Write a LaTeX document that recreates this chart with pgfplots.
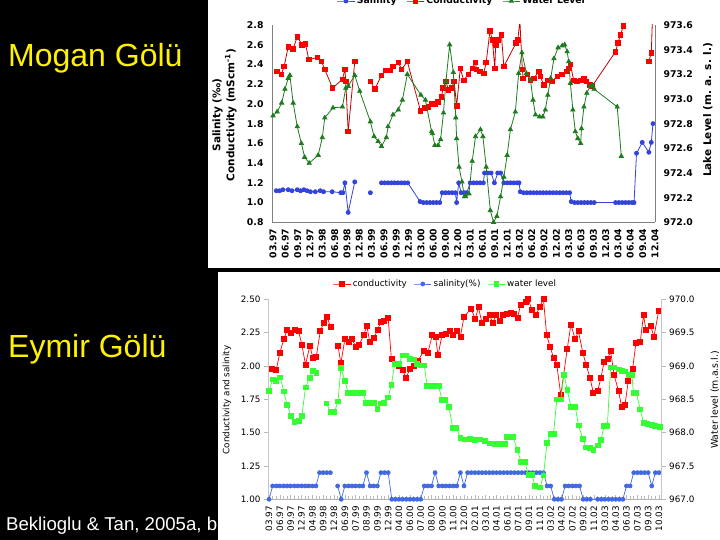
\documentclass[border=0pt]{standalone}
\usepackage{pgfplots}
\pgfplotsset{compat=1.18}
\usepackage{fontspec}
\setmainfont{DejaVu Sans}
\newfontfamily\arialf{Liberation Sans}

\definecolor{tred}{HTML}{FF0000}
\definecolor{tredl}{HTML}{C80000}
\definecolor{tgreen}{HTML}{1E7B1E}
\definecolor{tblue}{HTML}{3344DD}
\definecolor{bred}{HTML}{FF0000}
\definecolor{bgreen}{HTML}{33FF33}
\definecolor{bblue}{HTML}{4169E1}

\tikzset{
  topfont/.style={font=\bfseries\fontsize{9.3}{10}\selectfont},
  botfont/.style={font=\fontsize{8.8}{10}\selectfont},
}

\begin{document}
\begin{tikzpicture}[x=1pt,y=1pt]
\fill[black] (0,0) rectangle (720,540);
\fill[white] (208,272) rectangle (720,540);
\fill[white] (218,0) rectangle (720,268);

% ---------- Mogan Golu (top) ----------
\begin{axis}[
  at={(272pt,317.7pt)}, anchor=south west, scale only axis,
  width=383pt, height=197.3pt,
  xmin=-0.25, xmax=93, ymin=0.8, ymax=2.8,
  axis x line*=bottom, axis y line*=left,
  axis line style={gray, line width=0.8pt, -},
  major tick length=0pt,
  xtick={0,3,...,93},
  xticklabels={03.97,06.97,09.97,12.97,03.98,06.98,09.98,12.98,03.99,06.99,09.99,12.99,03.00,06.00,09.00,12.00,03.01,06.01,09.01,12.01,03.02,06.02,09.02,12.02,03.03,06.03,09.03,12.03,03.04,06.04,09.04,12.04},
  xticklabel style={rotate=90, anchor=east, topfont, xshift=-3pt},
  ytick={0.8,1.0,1.2,1.4,1.6,1.8,2.0,2.2,2.4,2.6,2.8},
  yticklabel style={topfont, xshift=-5pt, /pgf/number format/.cd, fixed, fixed zerofill, precision=1},
  /pgf/number format/assume math mode=true,
  every axis y label/.style={at={(axis description cs:-0.124,0.544)}, anchor=center, rotate=90, align=center, font=\bfseries\fontsize{10.5}{14}\selectfont},
  ylabel={Salinity (‰)\\Conductivity (mScm\textsuperscript{-1})},
  unbounded coords=jump,
  legend style={at={(axis description cs:0.496,1)}, anchor=center, yshift=24pt, draw=none, fill=none, topfont},
  legend columns=3,
  legend cell align=left,
  /tikz/every even column/.append style={column sep=8pt},
]
\addplot[color=tblue, line width=0.8pt, mark=*, mark size=2pt, mark options={fill=tblue, draw=tblue}] coordinates {
 (0.8,1.12)(1.6,1.12)(2.4,1.13)(3.7,1.13)(4.6,1.12)(5.9,1.13)(6.7,1.12)(7.5,1.13)(8.3,1.12)(9.1,1.11)(10.3,1.11)(11.5,1.12)(12.3,1.11)
 (14.4,1.11)(16.5,1.10)(17.0,1.10)(17.5,1.20)(18.3,0.90)(19.9,1.21)(21,nan)
 (23.7,1.10)(24,nan)
 (26.4,1.20)(27.2,1.20)(28.0,1.20)(28.8,1.20)(29.6,1.20)(30.4,1.20)(31.2,1.20)(32.0,1.20)(32.8,1.20)
 (35.8,1.01)(36.6,1.00)(37.4,1.00)(38.2,1.00)(39.0,1.00)(39.8,1.00)(40.6,1.00)
 (41.2,1.10)(42.0,1.10)(42.8,1.10)(43.6,1.10)(44.4,1.10)(44.7,1.00)(45.2,1.20)(45.8,1.10)(46.6,1.10)(47.2,1.10)
 (48.0,1.20)(48.8,1.20)(49.6,1.20)(50.4,1.20)(51.2,1.20)(51.5,1.30)(52.3,1.30)(53.1,1.30)(53.9,1.20)(54.7,1.30)(55.4,1.30)
 (56.2,1.20)(57.0,1.20)(57.8,1.20)(58.6,1.20)(59.4,1.20)(59.9,1.20)
 (60.2,1.11)(61.0,1.10)(61.8,1.10)(62.6,1.10)(63.4,1.10)(64.2,1.10)(65.0,1.10)(65.8,1.10)(66.6,1.10)(67.4,1.10)(68.2,1.10)(69.0,1.10)(69.8,1.10)(70.6,1.10)(71.4,1.10)(72.2,1.10)
 (72.6,1.01)(73.4,1.00)(74.2,1.00)(75.0,1.00)(75.8,1.00)(76.6,1.00)(77.4,1.00)(78.2,1.00)
 (83.4,1.00)(84.2,1.00)(85.0,1.00)(85.8,1.00)(86.6,1.00)(87.4,1.00)(87.9,1.00)
 (88.5,1.50)(89.9,1.61)(91.5,1.51)(92.1,1.61)(92.5,1.80)
};
\addlegendentry{Salinity}
\addplot[color=tredl, line width=0.8pt, mark=square*, mark size=2.3pt, mark options={fill=tred, draw=tred}] coordinates {
 (1,2.33)(2,2.30)(2.7,2.38)(3.7,2.58)(4.9,2.56)(5.9,2.68)(7.1,2.60)(7.9,2.61)(8.7,2.45)(10.8,2.47)(11.8,2.43)(12.6,2.35)
 (14.5,2.16)(16.9,2.25)(17.5,2.35)(17.7,2.23)(18.3,1.72)(19.9,2.43)(21,nan)
 (23.7,2.23)(24.8,2.15)(26.4,2.29)(27.4,2.34)(28.4,2.34)(29.2,2.38)(30.5,2.42)(31.3,2.35)(32.7,2.43)
 (35.9,1.93)(37,1.96)(37.8,1.97)(38.6,2.00)(39.4,2.00)(40.2,2.02)(41,2.07)(41.4,2.16)(42.1,2.23)(42.7,2.14)(43.5,2.16)(44.1,2.23)(44.7,1.98)
 (45.6,2.36)(46.4,2.24)(47.6,2.30)(48.5,2.36)(49.3,2.42)(49.5,2.35)(50.3,2.33)(51.3,2.31)(51.9,2.42)(52.8,2.74)(53.4,2.65)(54,2.36)(54.2,2.60)(54.7,2.65)(55.6,2.70)(56.2,2.38)
 (59.2,2.62)(59.6,2.65)(60.1,2.84)(60.7,2.35)(60.9,2.26)(61.9,2.30)(62.7,2.24)(63.5,2.26)(64.7,2.33)(65.1,2.28)(65.9,2.19)(66.9,2.24)(68,2.23)(69.2,2.28)(70.4,2.30)(71.5,2.33)(72,2.36)(72.4,2.40)
 (73.2,2.24)(74,2.23)(74.9,2.24)(75.7,2.26)(76.3,2.23)(77.1,2.19)(77.7,2.18)
 (83.4,2.53)(84,2.62)(84.6,2.70)(85.3,2.79)(86,2.85)(87,nan)
 (91.5,2.43)(92.1,2.52)(92.4,2.90)
};
\addlegendentry{Conductivity}
\addlegendimage{color=tgreen, line width=0.8pt, mark=triangle*, mark size=2.4pt, mark options={fill=tgreen}}
\addlegendentry{Water Level}
\end{axis}

\begin{axis}[
  at={(272pt,317.7pt)}, anchor=south west, scale only axis,
  width=383pt, height=197.3pt,
  xmin=-0.25, xmax=93, ymin=972, ymax=973.6,
  axis x line=none, axis y line*=right,
  axis line style={gray, line width=0.8pt, -},
  major tick length=0pt,
  ytick={972.0,972.2,972.4,972.6,972.8,973.0,973.2,973.4,973.6},
  yticklabel style={topfont, xshift=5pt, /pgf/number format/.cd, fixed, fixed zerofill, precision=1, 1000 sep={}},
  /pgf/number format/assume math mode=true,
  every axis y label/.style={at={(axis description cs:1.138,0.57)}, anchor=center, rotate=90, font=\bfseries\fontsize{10.5}{12}\selectfont},
  ylabel={Lake Level (m. a. s. l.)},
]
\addplot[color=tgreen, line width=0.8pt, mark=triangle*, mark size=2.4pt, mark options={fill=tgreen}] coordinates {
 (0,972.864)(1,972.896)(2.1,972.968)(2.9,973.08)(3.7,973.168)(4.1,973.192)(4.9,972.968)(5.9,972.776)(6.9,972.64)(7.7,972.528)(8.8,972.48)
 (11,972.544)(12,972.688)(12.6,972.848)(14.6,972.928)(16.9,972.936)(17.7,973.088)(18.3,973.104)(19.9,973.192)(21.1,973.064)
 (23.7,972.816)(24.6,972.696)(25.6,972.656)(26.4,972.616)(27.6,972.688)(28,972.776)(29.2,972.872)(30.5,972.912)(31.5,972.992)(32.7,973.2)
 (36,973.032)(37.1,972.992)(38.6,972.736)(38.8,972.72)(39.4,972.624)(40.2,972.624)(40.8,972.672)(41.5,972.888)(42.1,973.144)(43,973.44)(43.9,973.216)
 (44.5,972.848)(44.7,972.68)(45.3,972.448)(46,972.328)(46.6,972.208)(46.9,972.208)(47.7,972.232)(48.5,972.496)(49.3,972.696)(50.5,972.752)
 (51.1,972.696)(51.9,972.448)(52.9,972.096)(53.7,972.0)(54.5,972.048)(55.4,972.208)(56.2,972.368)(57,972.544)(57.8,972.752)
 (59,972.896)(59.8,973.208)(60.6,973.376)(61.7,973.208)(62.7,973.152)(63.3,972.992)(63.9,972.872)(64.9,972.856)(65.7,972.856)(66.3,972.912)
 (66.9,973.032)(67.6,973.168)(68.4,973.328)(69.4,973.416)(70.4,973.432)(71,973.44)(71.6,973.384)(72,973.304)(72.4,973.128)(73,972.912)
 (73.6,972.736)(74.2,972.68)(74.9,972.64)(75.1,972.76)(75.7,972.936)(76.4,973.048)(77.2,973.104)(77.8,973.112)(78.2,973.08)
 (83.8,972.936)(84.8,972.536)
};
\end{axis}

% ---------- Eymir Golu (bottom) ----------
\begin{axis}[
  at={(268pt,40.7pt)}, anchor=south west, scale only axis,
  width=393.7pt, height=200pt,
  xmin=-0.28, xmax=108.75, ymin=1, ymax=2.5,
  axis x line*=bottom, axis y line*=left,
  axis line style={gray!45, line width=0.8pt, -},
  x axis line style={gray!60},
  xtick={0,3,...,108},
  minor x tick num=2,
  xtick align=inside, ytick align=outside,
  major tick length=4pt, minor tick length=3.5pt,
  every tick/.style={gray!55, line width=0.6pt},
  xticklabels={03.97,06.97,09.97,12.97,04.98,09.98,12.98,06.99,07.99,08.99,09.99,12.99,04.00,06.00,07.00,08.00,09.00,11.00,12.00,02.01,03.01,04.01,06.01,07.01,09.01,11.01,03.02,04.02,07.02,09.02,11.02,03.03,04.03,06.03,07.03,09.03,10.03},
  xticklabel style={rotate=90, anchor=east, botfont, xshift=-3pt},
  ytick={1,1.25,1.5,1.75,2,2.25,2.5},
  yticklabel style={botfont, /pgf/number format/.cd, fixed, fixed zerofill, precision=2},
  /pgf/number format/assume math mode=true,
  every axis y label/.style={at={(axis description cs:-0.104,0.4965)}, anchor=center, rotate=90, botfont},
  ylabel={Conductivity and salinity},
  unbounded coords=jump,
  legend style={at={(axis description cs:0.451,1)}, anchor=center, yshift=15.3pt, draw=none, fill=none, botfont},
  legend columns=3,
  /tikz/every even column/.append style={column sep=5pt},
]
\addplot[color=bred, line width=0.7pt, mark=square*, mark size=2.5pt, mark options={fill=bred}] coordinates {
 (0.8,1.98)(2.0,1.97)(3.0,2.10)(4.1,2.20)(5.0,2.27)(6.1,2.25)(7.1,2.27)(8.2,2.26)(9.1,2.16)(10.1,2.01)(11.3,2.15)(12.2,2.06)(13.1,2.07)
 (14.2,2.26)(15.1,2.32)(16.1,2.37)(17.0,2.29)(18,nan)
 (19.1,2.15)(19.9,2.02)(21.0,2.20)(22.1,2.18)(23.0,2.20)(24.1,2.14)(25.0,2.16)(26.2,2.23)(27.1,2.30)(27.9,2.18)(29.0,2.21)(30.1,2.27)
 (30.9,2.33)(31.9,2.34)(33.0,2.36)(33.9,2.05)(35.9,2.00)(37.0,1.97)(38.0,1.91)(39.0,1.98)(40.1,2.00)(41.3,2.04)(42.8,2.11)(44.0,2.10)
 (45.2,2.23)(46.1,2.22)(46.8,2.08)(47.9,2.23)(49.1,2.24)(50.0,2.26)(51.0,2.23)(51.9,2.26)(53.0,2.22)(54.0,2.37)(56.0,2.43)(57.1,2.35)
 (58.0,2.44)(59.0,2.32)(60.1,2.35)(61.2,2.38)(61.9,2.32)(62.9,2.38)(63.8,2.34)(64.7,2.38)(65.8,2.39)(66.9,2.40)(67.7,2.39)(68.8,2.36)
 (69.7,2.46)(71.0,2.48)(71.8,2.50)(72.8,2.42)(73.9,2.38)(74.9,2.44)(76.0,2.50)(76.9,2.23)(77.9,2.14)(78.8,2.06)(79.7,2.01)(80.8,1.78)
 (82.6,2.13)(83.6,2.31)(84.8,2.20)(85.7,2.26)(86.9,2.10)(87.8,2.01)(88.9,1.91)(89.8,1.80)(91.0,1.81)(91.9,1.91)(92.8,2.03)(93.7,2.05)
 (94.6,2.11)(95.6,1.93)(96.8,1.81)(97.7,1.69)(98.6,1.71)(99.5,1.89)(100.7,1.98)(101.6,2.17)(102.8,2.18)(103.7,2.38)(104.4,2.27)
 (105.7,2.30)(106.6,2.22)(107.9,2.41)
};
\addlegendentry{conductivity}
\addplot[color=bblue, line width=0.7pt, mark=*, mark size=2pt, mark options={fill=bblue}] coordinates {
 (0,1.0)(1,1.1)(2,1.1)(3,1.1)(4,1.1)(5,1.1)(6,1.1)(7,1.1)(8,1.1)(9,1.1)(10,1.1)(11,1.1)(12,1.1)(13,1.1)
 (14,1.2)(15,1.2)(16,1.2)(17,1.2)(18,nan)
 (19,1.1)(20,1.0)(21,1.1)(22,1.1)(23,1.1)(24,1.1)(25,1.1)(26,1.1)(27,1.2)(28,1.1)(29,1.1)(30,1.1)(31,1.2)(32,1.2)(33,1.2)
 (34,1.0)(35,1.0)(36,1.0)(37,1.0)(38,1.0)(39,1.0)(40,1.0)(41,1.0)(42,1.0)(43,1.1)(44,1.1)(45,1.1)(46,1.2)
 (47,1.1)(48,1.1)(49,1.1)(50,1.1)(51,1.1)(52,1.1)(53,1.2)(54,1.1)
 (55,1.2)(56,1.2)(57,1.2)(58,1.2)(59,1.2)(60,1.2)(61,1.2)(62,1.2)(63,1.2)(64,1.2)(65,1.2)(66,1.2)(67,1.2)(68,1.2)(69,1.2)(70,1.2)
 (71,1.2)(72,1.2)(73,1.2)(74,1.2)(75,1.2)(76,1.2)(77,1.1)(78,1.1)(79,1.0)(80,1.0)(81,1.0)
 (82,1.1)(83,1.1)(84,1.1)(85,1.1)(86,1.1)(87,1.0)(88,1.0)(89,1.0)(91,1.0)(92,1.0)(93,1.0)(94,1.0)(95,1.0)(96,1.0)(97,1.0)(98,1.0)
 (99,1.1)(100,1.1)(101,1.2)(102,1.2)(103,1.2)(104,1.2)(105,1.2)(106,1.1)(107,1.2)(108,1.2)
};
\addlegendentry{salinity(\%)}
\addlegendimage{color=bgreen, line width=0.7pt, mark=square*, mark size=2.4pt, mark options={fill=bgreen}}
\addlegendentry{water level}
\end{axis}

\begin{axis}[
  at={(268pt,40.7pt)}, anchor=south west, scale only axis,
  width=393.7pt, height=200pt,
  xmin=-0.28, xmax=108.75, ymin=967, ymax=970,
  axis x line=none, axis y line*=right,
  axis line style={gray!45, line width=0.8pt, -},
  ytick align=outside, major tick length=4pt,
  every tick/.style={gray!55, line width=0.6pt},
  ytick={967,967.5,968,968.5,969,969.5,970},
  yticklabel style={botfont, /pgf/number format/.cd, fixed, fixed zerofill, precision=1, 1000 sep={}},
  /pgf/number format/assume math mode=true,
  every axis y label/.style={at={(axis description cs:1.135,0.4965)}, anchor=center, rotate=90, font=\fontsize{9.4}{11}\selectfont},
  ylabel={Water level (m.a.s.l.)},
  unbounded coords=jump,
]
\addplot[color=bgreen, line width=0.7pt, mark=square*, mark size=2.4pt, mark options={fill=bgreen}] coordinates {
 (0,968.63)(1.0,968.80)(2.0,968.78)(3.1,968.83)(4.1,968.62)(5.0,968.42)(6.1,968.25)(7.0,968.16)(8.2,968.18)(9.1,968.25)
 (10.1,968.68)(11.2,968.82)(12.1,968.93)(13.1,968.90)(14.5,nan)
 (15.9,968.44)(17.0,968.31)(18.1,968.31)(19.1,968.47)(19.9,968.97)(21.0,968.78)(21.9,968.60)(22.8,968.60)(23.9,968.60)(25.0,968.60)
 (26.0,968.60)(26.9,968.45)(27.9,968.45)(29.0,968.45)(30.0,968.36)(31.0,968.44)(31.9,968.45)(33.0,968.53)(33.9,968.72)(34.8,969.03)
 (35.9,969.03)(37.0,969.16)(38.0,969.16)(39.0,969.11)(40.1,969.10)(41.0,969.03)(42.1,969.01)(43.0,969.01)(43.8,968.70)(45.0,968.70)
 (46.1,968.70)(47.0,968.70)(47.9,968.49)(48.8,968.49)(49.8,968.39)(50.9,968.07)(51.9,968.07)(53.0,967.92)(54.1,967.90)(55.7,967.91)
 (57.1,967.89)(58.4,967.90)(59.8,967.88)(61.2,967.84)(62.6,967.83)(64.0,967.83)(65.4,967.83)(65.8,967.94)(67.5,967.94)(68.8,967.74)
 (69.8,967.56)(70.9,967.56)(71.8,967.37)(72.8,967.37)(73.7,967.20)(75.1,967.18)(76.0,967.36)(77.0,967.85)(77.9,967.98)(78.8,967.98)
 (79.7,968.50)(80.8,968.50)(81.7,968.87)(82.6,968.64)(83.6,968.39)(84.8,968.39)(85.7,968.11)(86.9,967.91)(87.8,967.78)(88.9,967.77)
 (89.8,967.74)(91.0,967.81)(91.9,967.89)(92.8,968.10)(93.7,968.10)(94.6,968.98)(95.6,968.98)(96.8,968.95)(97.7,968.93)(98.6,968.92)
 (99.5,968.87)(100.5,968.87)(100.9,968.60)(101.7,968.60)(102.8,968.35)(103.7,968.15)(104.8,968.13)(106.0,968.12)(106.9,968.10)(108.3,968.09)
};
\end{axis}

\node[anchor=base west, inner sep=0pt, text=yellow, font=\arialf\fontsize{32}{36}\selectfont] at (8,473) {Mogan Gölü};
\node[anchor=base west, inner sep=0pt, text=yellow, font=\arialf\fontsize{32}{36}\selectfont] at (8,182) {Eymir Gölü};
\node[anchor=base west, inner sep=0pt, text=white, font=\arialf\fontsize{18.6}{22}\selectfont] at (6,9) {Beklioglu \& Tan, 2005a, b};

\pgfresetboundingbox
\useasboundingbox (0,0) rectangle (720,540);
\end{tikzpicture}
\end{document}
